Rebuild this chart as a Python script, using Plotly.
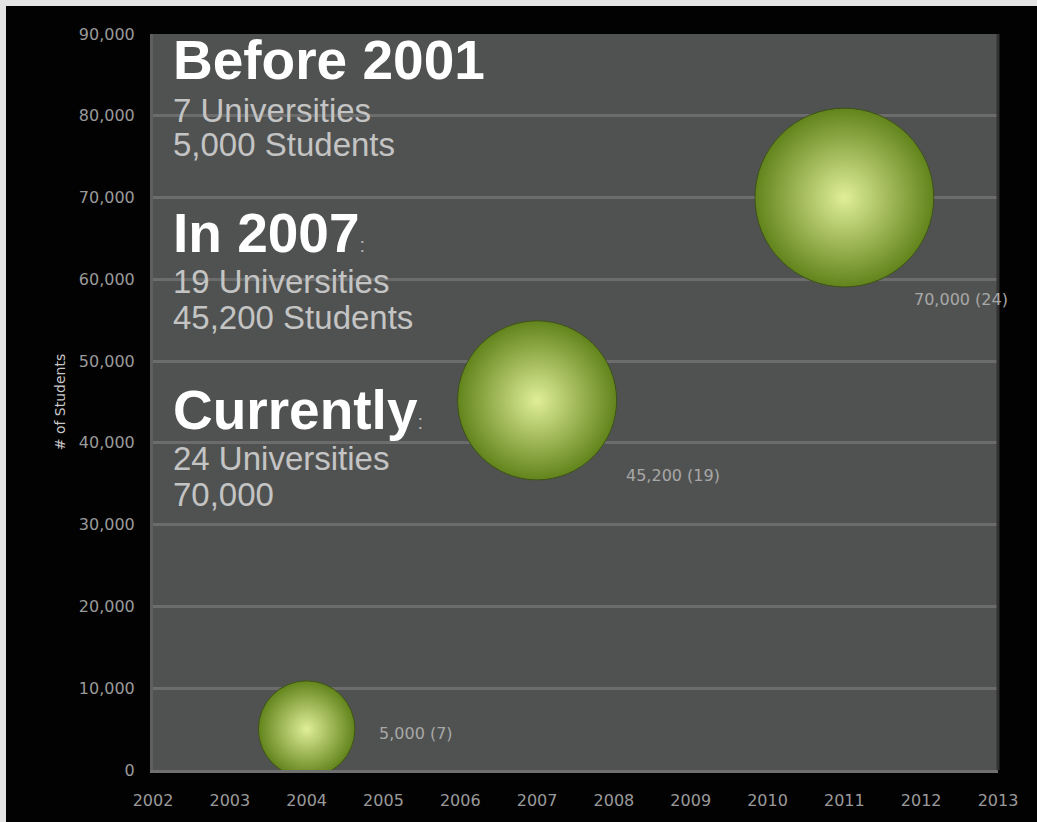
import plotly.graph_objects as go

# ---- data ----
years = [2004, 2007, 2011]
students = [5000, 45200, 70000]
universities = [7, 19, 24]
bubble_labels = ["5,000 (7)", "45,200 (19)", "70,000 (24)"]

x_ticks = list(range(2002, 2014))
y_ticks = list(range(0, 90001, 10000))

headings = ["Before 2001", "In 2007", "Currently"]
heading_suffix = ["", ":", ":"]
detail_lines = [
    ["7 Universities", "5,000 Students"],
    ["19 Universities", "45,200 Students"],
    ["24 Universities", "70,000"],
]

# ---- style / layout constants ----
W, H = 1037, 822
L, R, T, B = 153, 39, 34, 52
PH = H - T - B

def py_to_paper(py):
    return (H - B - py) / PH

def px_to_paper(px):
    return (px - L) / (W - L - R)

heading_y_px = [60.5, 233, 410]
detail_y_px = [[110, 144], [281, 317], [458, 495]]
label_shift = [(70, -4), (87, -75), (68, -102)]

fig = go.Figure()

fig.add_trace(go.Scatter(
    x=years, y=students,
    mode="markers",
    marker=dict(
        size=universities,
        sizemode="area",
        sizeref=2 / 1332.0,
        color="#62841c",
        gradient=dict(type="radial", color="#e0ee98"),
        line=dict(width=1, color="#3e5216"),
        opacity=1,
    ),
    hoverinfo="skip",
    showlegend=False,
))

annotations = []
for i, h in enumerate(headings):
    txt = "<b>" + h + "</b>"
    if heading_suffix[i]:
        txt += '<span style="font-size:20px;color:#b4b4b4">' + heading_suffix[i] + "</span>"
    annotations.append(dict(
        xref="paper", yref="paper",
        x=px_to_paper(172), y=py_to_paper(heading_y_px[i]),
        xanchor="left", yanchor="middle", borderpad=0,
        text=txt, showarrow=False,
        font=dict(family="Liberation Sans, Arial", size=55, color="#ffffff"),
    ))
    for j, line in enumerate(detail_lines[i]):
        annotations.append(dict(
            xref="paper", yref="paper",
            x=px_to_paper(172), y=py_to_paper(detail_y_px[i][j]),
            xanchor="left", yanchor="middle", borderpad=0,
            text=line, showarrow=False,
            font=dict(family="Liberation Sans, Arial", size=33, color="#c4c4c4"),
        ))

for k in range(len(years)):
    annotations.append(dict(
        x=years[k], y=students[k], xref="x", yref="y",
        text=bubble_labels[k], showarrow=False,
        xanchor="left", yanchor="middle",
        xshift=label_shift[k][0], yshift=label_shift[k][1],
        font=dict(family="DejaVu Sans", size=16, color="#a8a8a8"),
    ))

shapes = [
    # light strips at top and left edge of the picture
    dict(type="rect", xref="paper", yref="paper",
         x0=px_to_paper(0), x1=px_to_paper(W), y0=py_to_paper(6), y1=py_to_paper(0),
         fillcolor="#e4e4e4", line=dict(width=0), layer="below"),
    dict(type="rect", xref="paper", yref="paper",
         x0=px_to_paper(0), x1=px_to_paper(6), y0=py_to_paper(H), y1=py_to_paper(0),
         fillcolor="#e4e4e4", line=dict(width=0), layer="below"),
    # darker right edge of the plot area
    dict(type="line", xref="paper", yref="paper", x0=1, x1=1, y0=0, y1=1,
         line=dict(color="#333333", width=3)),
]

fig.update_layout(
    width=W, height=H,
    margin=dict(l=L, r=R, t=T, b=B, pad=0),
    paper_bgcolor="#020202",
    plot_bgcolor="#505251",
    annotations=annotations,
    shapes=shapes,
    showlegend=False,
    xaxis=dict(
        range=[2002, 2013], tickvals=x_ticks, ticktext=[str(v) for v in x_ticks],
        showgrid=False, zeroline=False,
        showline=True, linecolor="#6e6f6e", linewidth=3,
        tickfont=dict(family="DejaVu Sans", size=16, color="#9a9a9a"),
        ticks="", ticklabelstandoff=14,
        fixedrange=True,
    ),
    yaxis=dict(
        range=[0, 90000], tickvals=y_ticks, tickformat=",",
        showgrid=True, gridcolor="#6b6c6b", gridwidth=3,
        zeroline=False,
        showline=True, linecolor="#5e605f", linewidth=3,
        tickfont=dict(family="DejaVu Sans", size=16, color="#9a9a9a"),
        ticks="", ticklabelstandoff=12,
        title=dict(text="# of Students", standoff=10,
                   font=dict(family="DejaVu Sans", size=14, color="#c8c8c8")),
        fixedrange=True,
    ),
)

fig.write_html("out.html")
